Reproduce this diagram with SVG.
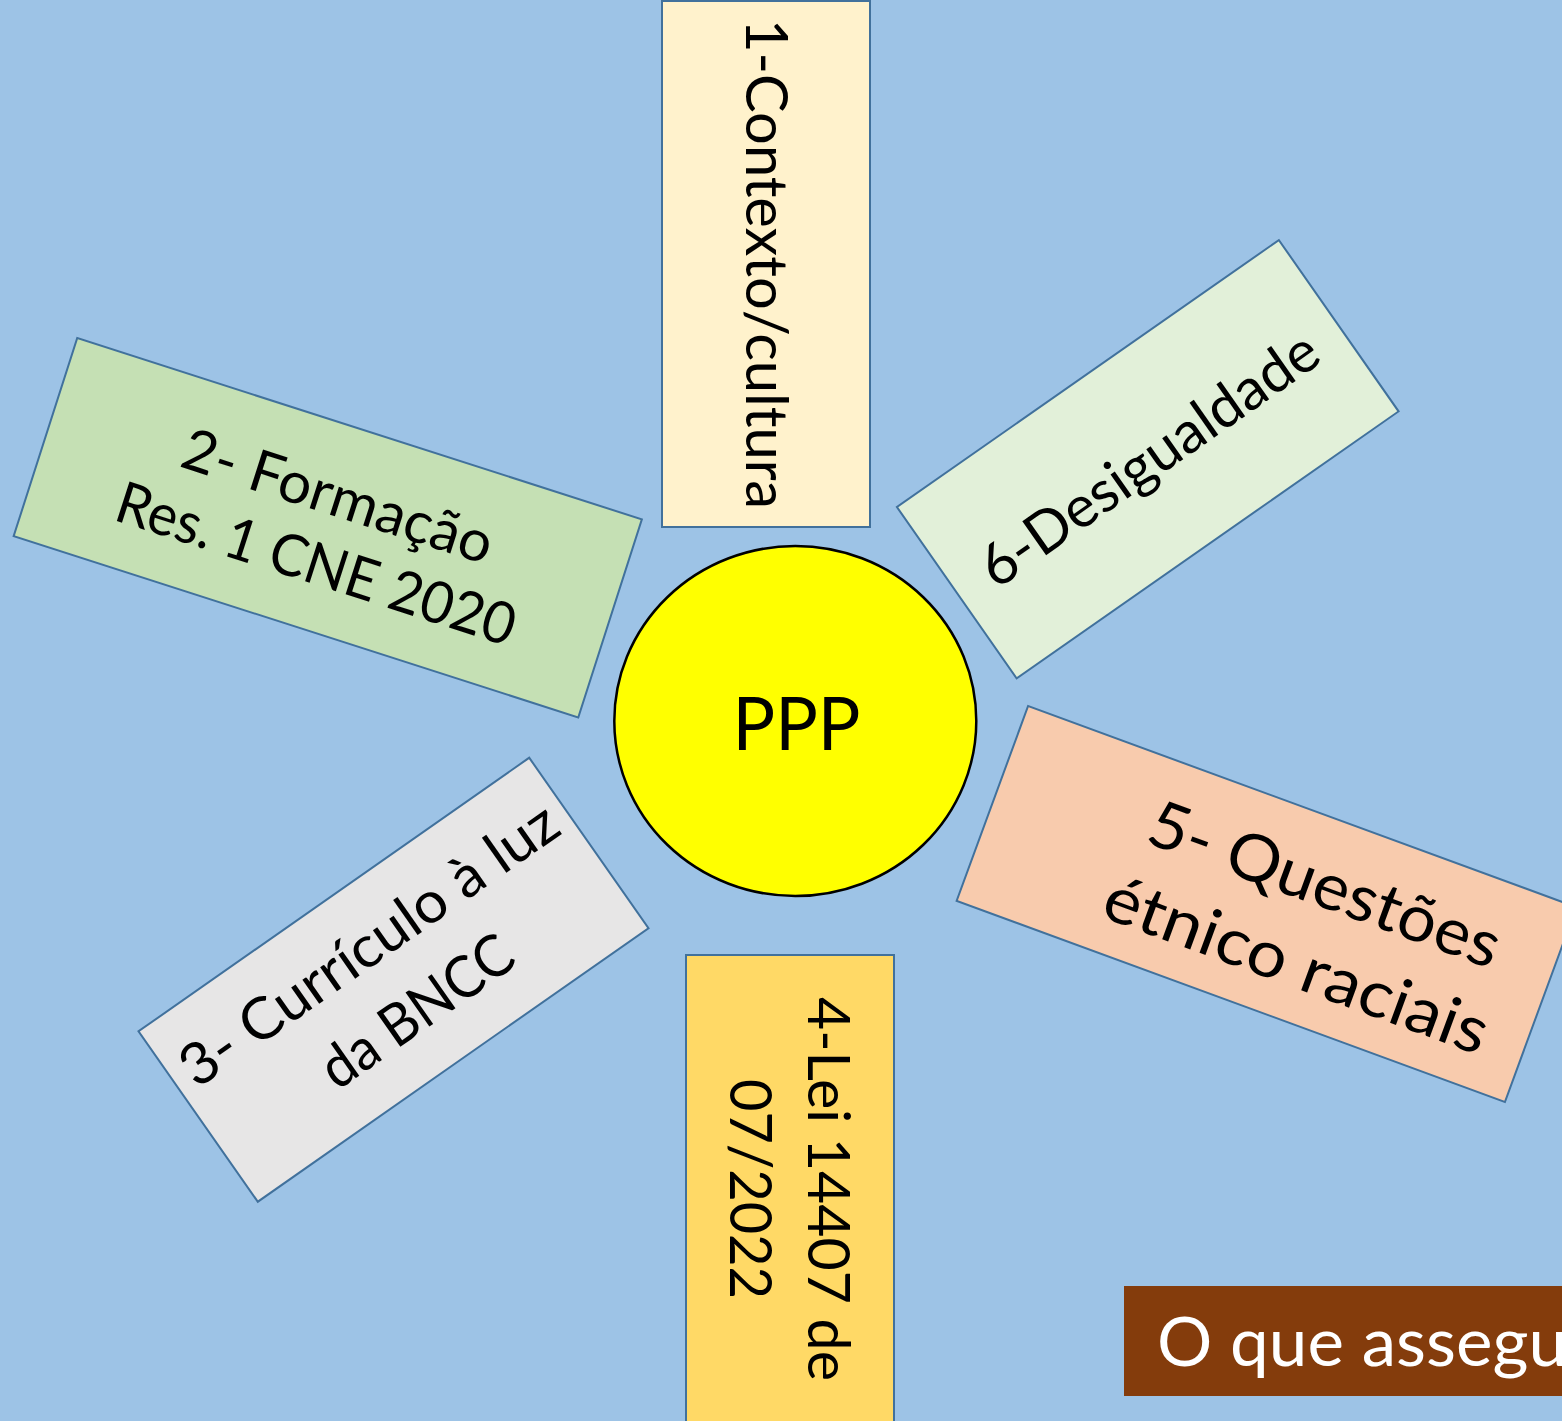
<svg xmlns="http://www.w3.org/2000/svg" width="1562" height="1421" viewBox="0 0 1562 1421">
<style>
.box{stroke:#41719C;stroke-width:2}
.t{font-family:Lato,"Open Sans","Liberation Sans",sans-serif;fill:#000;text-anchor:middle}
.m{font-size:58px}
.l{font-size:65px}
</style>
<rect x="0" y="0" width="1562" height="1421" fill="#9DC3E6"/>
<g id="connectors"/>
<g id="n1">
<rect class="box" x="662" y="1" width="208" height="526" fill="#FFF2CC"/>
<g transform="translate(766,264) rotate(90)">
<text class="t m" x="0" y="20.5" textLength="490" lengthAdjust="spacingAndGlyphs">1-Contexto/cultura</text>
</g>
</g>
<g id="n2" transform="translate(327.75,527.75) rotate(17.8)">
<rect class="box" x="-296.5" y="-104" width="593" height="208" fill="#C5E0B4"/>
<text class="t m" x="0" y="-13" textLength="323" lengthAdjust="spacingAndGlyphs">2- Formação</text>
<text class="t m" x="0" y="58" textLength="416" lengthAdjust="spacingAndGlyphs">Res. 1 CNE 2020</text>
</g>
<g id="n3" transform="translate(393.5,979.75) rotate(-35)">
<rect class="box" x="-238.5" y="-104" width="477" height="208" fill="#E7E6E6"/>
<text class="t m" x="0" y="-23" textLength="448" lengthAdjust="spacingAndGlyphs">3- Currículo à luz</text>
<text class="t m" x="1" y="59" textLength="222" lengthAdjust="spacingAndGlyphs">da BNCC</text>
</g>
<g id="n4">
<rect class="box" x="686" y="955" width="208" height="480" fill="#FFD966"/>
<g transform="translate(790,1189) rotate(90)">
<text class="t m" x="0" y="-18" textLength="384" lengthAdjust="spacingAndGlyphs">4-Lei 14407 de</text>
<text class="t m" x="0" y="60" textLength="220" lengthAdjust="spacingAndGlyphs">07/2022</text>
</g>
</g>
<g id="n5" transform="translate(1266.5,904) rotate(20.14)">
<rect class="box" x="-292" y="-103.75" width="584" height="207.5" fill="#F8CBAD"/>
<text class="t l" x="48" y="-16" textLength="370" lengthAdjust="spacingAndGlyphs">5- Questões</text>
<text class="t l" x="49" y="69" textLength="405" lengthAdjust="spacingAndGlyphs">étnico raciais</text>
</g>
<g id="n6" transform="translate(1147.75,459.2) rotate(-34.95)">
<rect class="box" x="-233" y="-104.5" width="466" height="209" fill="#E2F0D9"/>
<text class="t m" x="1" y="20.5" textLength="400" lengthAdjust="spacingAndGlyphs">6-Desigualdade</text>
</g>
<g id="center">
<ellipse cx="795.3" cy="721" rx="181" ry="175" fill="#FFFF00" stroke="#000" stroke-width="2.5"/>
<text class="t" style="font-size:74px" x="796.5" y="750" textLength="128" lengthAdjust="spacingAndGlyphs">PPP</text>
</g>
<g id="banner">
<rect x="1124" y="1286" width="450" height="110" fill="#843C0C"/>
<text x="1157" y="1366" textLength="410" lengthAdjust="spacingAndGlyphs" style="font-family:Lato,'Open Sans','Liberation Sans',sans-serif;font-size:67px;fill:#fff">O que assegu</text>
</g>
</svg>
